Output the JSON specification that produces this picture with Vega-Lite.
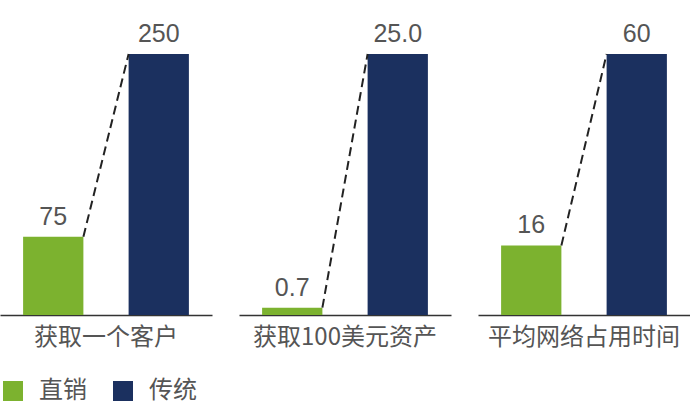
{
  "$schema": "https://vega.github.io/schema/vega-lite/v6.json",
  "padding": {"left": 0, "top": 22, "right": 0, "bottom": 0},
  "background": "white",
  "data": {"values": [
    {"cat": "获取一个客户", "channel": "直销", "value": 75, "label": "75"},
    {"cat": "获取一个客户", "channel": "传统", "value": 250, "label": "250"},
    {"cat": "获取100美元资产", "channel": "直销", "value": 0.7, "label": "0.7"},
    {"cat": "获取100美元资产", "channel": "传统", "value": 25.0, "label": "25.0"},
    {"cat": "平均网络占用时间", "channel": "直销", "value": 16, "label": "16"},
    {"cat": "平均网络占用时间", "channel": "传统", "value": 60, "label": "60"}
  ]},
  "facet": {
    "column": {
      "field": "cat", "type": "nominal",
      "sort": ["获取一个客户", "获取100美元资产", "平均网络占用时间"],
      "header": {"title": null, "labelOrient": "bottom", "labelFont": "Noto Sans CJK SC", "labelFontSize": 24, "labelColor": "#555555", "labelPadding": 11}
    }
  },
  "spacing": 27,
  "resolve": {"scale": {"y": "independent"}},
  "spec": {
    "width": 212,
    "height": 261,
    "encoding": {
      "x": {"field": "channel", "type": "nominal", "sort": ["直销", "传统"],
        "scale": {"paddingInner": 0.4286, "paddingOuter": 0.219},
        "axis": {"title": null, "labels": false, "ticks": false, "domainColor": "#333333", "domainWidth": 1.5}}
    },
    "layer": [
      {
        "mark": {"type": "bar"},
        "encoding": {
          "y": {"field": "value", "type": "quantitative", "scale": {"nice": false, "zero": true}, "axis": null},
          "color": {"field": "channel", "type": "nominal", "sort": ["直销", "传统"],
            "scale": {"domain": ["直销", "传统"], "range": ["#7CB22F", "#1B305F"]},
            "legend": {"title": null, "orient": "bottom", "direction": "horizontal", "symbolType": "square", "symbolSize": 400, "symbolStrokeWidth": 0, "labelFont": "Noto Sans CJK SC", "labelFontSize": 24, "labelColor": "#555555", "columnPadding": 24, "labelOffset": 14, "offset": 28, "padding": 1}}
        }
      },
      {
        "mark": {"type": "text", "baseline": "alphabetic", "dy": -12, "font": "Liberation Sans", "fontSize": 25, "color": "#555555"},
        "encoding": {
          "y": {"field": "value", "type": "quantitative"},
          "text": {"field": "label"}
        }
      },
      {
        "transform": [{"pivot": "channel", "value": "value", "groupby": ["cat"]}],
        "mark": {"type": "rule", "strokeDash": [9, 5], "strokeWidth": 2, "color": "#222222"},
        "encoding": {
          "x": {"datum": "直销", "bandPosition": 1},
          "x2": {"datum": "传统", "bandPosition": 0},
          "y": {"field": "直销", "type": "quantitative"},
          "y2": {"field": "传统"}
        }
      }
    ]
  },
  "config": {"view": {"stroke": null}}
}
